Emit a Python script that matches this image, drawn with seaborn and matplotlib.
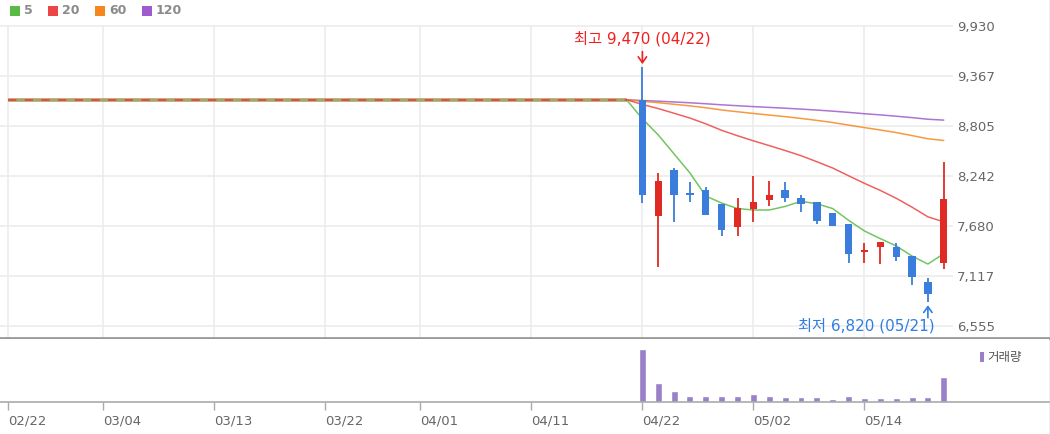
import numpy as np
import pandas as pd
import seaborn as sns
import matplotlib.pyplot as plt
from matplotlib.lines import Line2D
from matplotlib.patches import Rectangle

# trading calendar (KRX 2024) - x axis is the trading-day index
holidays = ['2024-03-01', '2024-04-10', '2024-05-01', '2024-05-06', '2024-05-15']
tick_labels = ['02/22', '03/04', '03/13', '03/22', '04/01', '04/11', '04/22', '05/02', '05/14']
price_ticks = [6555, 7117, 7680, 8242, 8805, 9367, 9930]

# daily candles after listing
candle_dates = ['04/22', '04/23', '04/24', '04/25', '04/26', '04/29', '04/30', '05/02', '05/03', '05/07',
                '05/08', '05/09', '05/10', '05/13', '05/14', '05/16', '05/17', '05/20', '05/21', '05/22']
open_p = [9100, 7790, 8310, 8055, 8090, 7930, 7670, 7870, 7970, 8090,
          8000, 7950, 7830, 7700, 7390, 7440, 7440, 7340, 7050, 7260]
high_p = [9470, 8280, 8330, 8175, 8120, 7930, 8000, 8240, 8190, 8180,
          8030, 7950, 7830, 7700, 7490, 7500, 7490, 7340, 7100, 8400]
low_p = [7940, 7220, 7720, 7950, 7800, 7570, 7570, 7720, 7900, 7950,
         7840, 7700, 7680, 7260, 7260, 7250, 7290, 7020, 6820, 7200]
close_p = [8030, 8190, 8030, 8030, 7800, 7640, 7880, 7950, 8030, 8000,
           7930, 7740, 7680, 7370, 7400, 7500, 7330, 7110, 6920, 7980]
volume = [5300000, 1900000, 1150000, 650000, 650000, 650000, 650000, 800000, 650000, 470000,
          470000, 470000, 330000, 650000, 370000, 370000, 370000, 500000, 500000, 2500000]

# flat base price before listing
base_price = 9100
base_dates = ['02/22', '04/19']

# moving averages
ma_dates = ['04/19'] + candle_dates
ma5 = [9100, 8886, 8704, 8490, 8276, 8016, 7938, 7876, 7860, 7860, 7900,
       7958, 7930, 7876, 7744, 7624, 7538, 7456, 7342, 7252, 7368]
ma20 = [9100, 9047, 9001, 8948, 8894, 8829, 8756, 8695, 8638, 8584, 8529,
        8471, 8403, 8332, 8245, 8160, 8080, 7992, 7892, 7783, 7727]
ma60 = [9100, 9082, 9067, 9049, 9031, 9010, 8985, 8965, 8946, 8928, 8910,
        8890, 8868, 8844, 8815, 8787, 8760, 8731, 8697, 8661, 8642]
ma120 = [9100, 9091, 9084, 9075, 9066, 9055, 9043, 9033, 9023, 9014, 9005,
         8995, 8984, 8972, 8958, 8943, 8930, 8915, 8899, 8881, 8871]

ma_names = ['5', '20', '60', '120']
ma_colors = {'5': '#5aba46', '20': '#eb4646', '60': '#f5871e', '120': '#a05acd'}
RED, BLUE, VOL = '#e02b24', '#3a7ddc', '#9a80c8'

sns.set_theme(style='white')
plt.rcParams['font.family'] = ['DejaVu Sans', 'Noto Sans CJK KR']

days = pd.bdate_range('2024-02-22', '2024-05-22')
days = days[~days.isin(pd.to_datetime(holidays))]
pos = {d.strftime('%m/%d'): i for i, d in enumerate(days)}

W, H = 1050, 434
fig = plt.figure(figsize=(W / 100, H / 100), dpi=100)


def box(l, t, r, b):
    return [l / W, 1 - b / H, (r - l) / W, (b - t) / H]


ax = fig.add_axes(box(0, 25, 1049, 338))
axv = fig.add_axes(box(0, 339, 1049, 402))

px_day = 15.86
xlim = (-8 / px_day, (1049 - 8) / px_day)

# candles
cx = np.array([pos[d] for d in candle_dates])
o, h, l, c = map(np.array, (open_p, high_p, low_p, close_p))
cols = np.where(c >= o, RED, BLUE)
ax.vlines(cx, l, h, colors=cols, lw=1.3, zorder=3)
ax.bar(cx, np.maximum(np.abs(c - o), 20), bottom=np.minimum(o, c), width=0.46,
       color=cols, lw=0, zorder=4)

# pre-listing flat line
bx = [pos[d] for d in base_dates]
ax.plot(bx, [base_price] * 2, color='#aaa46a', lw=2.6, zorder=2, solid_capstyle='butt')
ax.plot(bx, [base_price] * 2, color='#f03c3c', lw=1.2, ls=(0, (5, 5)), zorder=2.5)

# moving averages
ma_df = pd.concat([pd.DataFrame({'x': [pos[d] for d in ma_dates], 'price': v, 'ma': n})
                   for n, v in zip(ma_names, [ma5, ma20, ma60, ma120])])
sns.lineplot(data=ma_df, x='x', y='price', hue='ma', hue_order=ma_names[::-1], palette=ma_colors,
             legend=False, errorbar=None, lw=1.1, alpha=0.85, ax=ax, zorder=2)

ax.set_xlim(*xlim)
ax.set_ylim(6420, 9941)
tick_pos = [pos[t] for t in tick_labels]
ax.set_xticks(tick_pos)
ax.grid(axis='x', color='#ececec', lw=1.2)
ax.set_axisbelow(True)
ax.hlines(price_ticks, xlim[0], 59.6, color='#ececec', lw=1.2, zorder=0)
ax.set_yticks(price_ticks)
ax.set_yticklabels([f'{v:,}' for v in price_ticks])
ax.yaxis.tick_right()
ax.tick_params(axis='y', length=0, pad=-66, labelsize=9.5, labelcolor='#666666')
ax.tick_params(axis='x', length=0, labelbottom=False)
ax.set_xlabel('')
ax.set_ylabel('')
for s in ['top', 'left', 'right']:
    ax.spines[s].set_visible(False)
ax.spines['bottom'].set_color('#9a9a9a')
ax.spines['bottom'].set_linewidth(2)

# high / low annotations
ih, il = int(np.argmax(h)), int(np.argmin(l))
ax.annotate(f'최고 {h[ih]:,} ({candle_dates[ih]})', xy=(cx[ih], h[ih]), xytext=(0, 20),
            textcoords='offset points', ha='center', va='center', color='#f02020', fontsize=11)
ax.annotate('', xy=(cx[ih], h[ih]), xytext=(0, 11), textcoords='offset points',
            arrowprops=dict(arrowstyle='->,head_length=0.35,head_width=0.25', color='#f02020',
                            lw=1.2, shrinkA=0, shrinkB=2))
ax.annotate(f'최저 {l[il]:,} ({candle_dates[il]})', xy=(cx[il], l[il]), xytext=(5, -17),
            textcoords='offset points', ha='right', va='center', color='#2f7ee0', fontsize=11)
ax.annotate('', xy=(cx[il], l[il]), xytext=(0, -11), textcoords='offset points',
            arrowprops=dict(arrowstyle='->,head_length=0.35,head_width=0.25', color='#2f7ee0',
                            lw=1.2, shrinkA=0, shrinkB=2))

# volume
sns.barplot(x=cx, y=volume, native_scale=True, color=VOL, saturation=1, width=0.44, ax=axv)
axv.set_xlim(*xlim)
axv.set_ylim(0, 6300000)
axv.set_xticks(tick_pos)
axv.set_xticklabels(tick_labels)
for lbl in axv.get_xticklabels():
    lbl.set_ha('left')
axv.set_yticks([])
axv.tick_params(axis='x', bottom=True, direction='out', length=6, width=1, color='#aaaaaa',
                labelsize=9.5, labelcolor='#666666', pad=3)
axv.set_xlabel('')
axv.set_ylabel('')
for s in ['top', 'left', 'right']:
    axv.spines[s].set_visible(False)
axv.spines['bottom'].set_color('#aaaaaa')
axv.spines['bottom'].set_linewidth(1.2)

# right border
fig.add_artist(Line2D([1049.5 / W] * 2, [0, 1], color='#aaaaaa', lw=1))

# legend (top) and volume label
for n, xl in zip(ma_names, [10, 48, 95, 142]):
    fig.add_artist(Rectangle((xl / W, 1 - 16 / H), 10 / W, 10 / H, color=ma_colors[n], lw=0))
    fig.text((xl + 14) / W, 1 - 11 / H, n, ha='left', va='center', fontsize=9,
             fontweight='bold', color='#8a8a8a')
fig.add_artist(Rectangle((980 / W, 1 - 362 / H), 4 / W, 10 / H, color=VOL, lw=0))
fig.text(987 / W, 1 - 357 / H, '거래량', ha='left', va='center', fontsize=9, color='#555555')

fig.savefig('out.png', dpi=100)
